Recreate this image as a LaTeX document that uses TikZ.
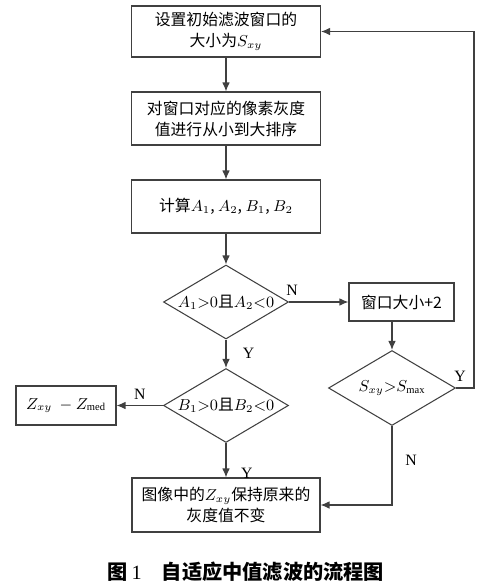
\documentclass[tikz,border=0pt]{standalone}
\usepackage{fontspec}
\setmainfont{Liberation Serif}
\newfontfamily\cjk{Noto Sans CJK SC}
\usepackage{tikz}
\usetikzlibrary{shapes.geometric, arrows.meta, positioning}
\usepackage{amsmath}

\begin{document}
\begin{tikzpicture}[x=0.02cm, y=-0.02cm,
    stepbox/.style={draw, semithick, draw=black!75, align=center, inner sep=2pt, font=\cjk\fontsize{9}{12}\selectfont},
    decide/.style={draw, semithick, draw=black!75, diamond, aspect=1.7, inner sep=0pt, minimum width=2.5cm, minimum height=1.48cm, font=\fontsize{9}{12}\selectfont},
    flow/.style={draw=black!75, semithick, -{Latex[length=1.8mm, width=1.5mm]}},
    yn/.style={font=\fontsize{9}{11}\selectfont}]
  \useasboundingbox (0,0) rectangle (500,586);

  % Main column
  \node[stepbox, minimum width=3.78cm, minimum height=1.02cm] (init) at (226, 31.5) {设置初始滤波窗口的\\大小为$S_{xy}$};
  \node[stepbox, minimum width=3.78cm, minimum height=1.06cm] (sort) at (226, 118.5) {对窗口对应的像素灰度\\值进行从小到大排序};
  \node[stepbox, minimum width=3.78cm, minimum height=1.06cm] (calc) at (226, 206.5) {计算$A_1$, $A_2$, $B_1$, $B_2$};
  \node[decide] (condA) at (226, 302) {$A_1{>}0${\cjk 且}$A_2{<}0$};
  \node[decide] (condB) at (226, 405.5) {$B_1{>}0${\cjk 且}$B_2{<}0$};
  \node[stepbox, minimum width=3.76cm, minimum height=1.08cm] (keep) at (226, 505) {图像中的$Z_{xy}$保持原来的\\灰度值不变};

  % Side branches
  \node[stepbox, minimum width=2.1cm, minimum height=0.76cm] (grow) at (401.5, 302) {窗口大小+2};
  \node[decide, minimum width=2.54cm, minimum height=1.5cm] (condS) at (392, 388) {$S_{xy}{>}S_{\max}$};
  \node[stepbox, minimum width=2cm, minimum height=0.78cm] (setz) at (66, 405.5) {$Z_{xy}\ -Z_{\mathrm{med}}$};
  \coordinate (loop) at (474, 31.5);

  % Connectors
  \draw[flow] (init) -- (sort);
  \draw[flow] (sort) -- (calc);
  \draw[flow] (calc) -- (condA);
  \draw[flow] (condA.east) -- node[yn, above, pos=0.05] {N} (grow.west);
  \draw[flow] (condS.north |- grow.south) -- (condS.north);
  \draw[flow] (condS.east) -| node[yn, above left, pos=0.45] {Y} (loop) -- (init.east);
  \draw[flow] (condS.south) |- node[yn, right=4pt, pos=0.22] {N} (keep.east);
  \draw[flow] (condA.south) -- node[yn, right=6pt] {Y} (condB.north);
  \draw[flow] (condB.west) -- node[yn, above] {N} (setz.east);
  \draw[flow] (condB.south) -- node[yn, right=5pt, pos=0.88] {Y} (keep.north);

  % Caption
  \node[font=\cjk\bfseries\fontsize{11.5}{14}\selectfont] (caption) at (246, 572) {图\,{\normalfont\rmfamily 1}\quad 自适应中值滤波的流程图};
\end{tikzpicture}
\end{document}
